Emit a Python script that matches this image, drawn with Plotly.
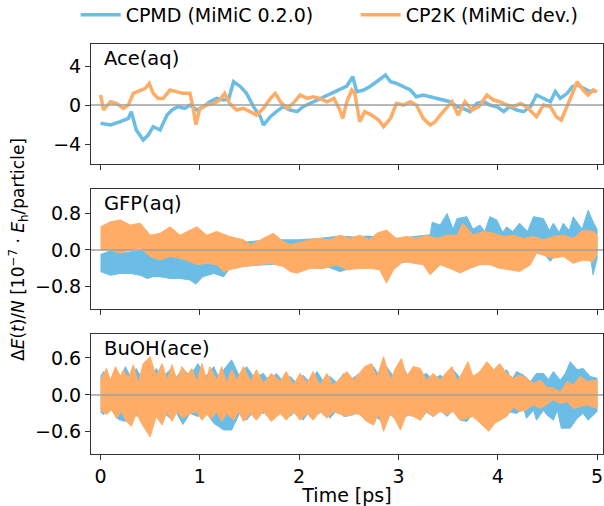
import plotly.graph_objects as go

# ---------------- data ----------------
series_names = ["CPMD (MiMiC 0.2.0)", "CP2K (MiMiC dev.)"]
panel_labels = ["Ace(aq)", "GFP(aq)", "BuOH(ace)"]
x_ticks = [0, 1, 2, 3, 4, 5]
y_ticks_ace = [-4, 0, 4]
y_ticks_gfp = [-0.8, 0.0, 0.8]
y_ticks_buoh = [-0.6, 0.0, 0.6]

# Ace(aq): running values
ace_cpmd_t = [0.00, 0.10, 0.20, 0.28, 0.31, 0.36, 0.43, 0.48, 0.53, 0.60, 0.67, 0.72, 0.78, 0.85,
              0.90, 0.97, 1.04, 1.10, 1.17, 1.24, 1.29, 1.34, 1.41, 1.47, 1.54, 1.61, 1.64, 1.71,
              1.77, 1.84, 1.91, 1.98, 2.04, 2.11, 2.18, 2.24, 2.31, 2.38, 2.44, 2.48, 2.54, 2.58,
              2.65, 2.71, 2.78, 2.87, 2.92, 2.98, 3.05, 3.12, 3.18, 3.25, 3.32, 3.39, 3.45, 3.52,
              3.59, 3.65, 3.72, 3.79, 3.86, 3.92, 3.99, 4.06, 4.12, 4.19, 4.26, 4.33, 4.39, 4.46,
              4.53, 4.58, 4.63, 4.70, 4.75, 4.80, 4.86, 4.93, 4.98]
ace_cpmd_v = [-1.88, -2.05, -1.70, -1.36, -0.68, -2.56, -3.59, -3.08, -2.22, -2.56, -1.03, -0.51,
              -0.17, -0.34, 0.00, -0.51, -0.17, 0.34, 0.68, 0.51, 0.60, 2.39, 1.88, 1.20, -0.17,
              -1.20, -2.05, -1.20, -0.68, -0.17, -0.51, -0.68, -0.17, 0.17, 0.51, 0.85, 1.20, 1.54,
              1.75, 1.95, 2.90, 1.37, 1.54, 1.88, 2.39, 3.08, 2.39, 2.22, 1.88, 1.54, 0.85, 1.03,
              0.85, 0.68, 0.51, 0.34, -0.17, -0.34, -0.68, 0.17, 0.34, 0.00, -0.17, -0.68, -0.17,
              -0.51, -0.68, -0.17, 1.03, 0.68, 0.34, 1.37, 0.68, 1.20, 1.88, 2.05, 1.71, 1.37, 1.54]

ace_cp2k_t = [0.00, 0.03, 0.10, 0.16, 0.23, 0.28, 0.33, 0.40, 0.45, 0.49, 0.53, 0.58, 0.63, 0.70,
              0.77, 0.83, 0.90, 0.93, 0.96, 1.00, 1.07, 1.14, 1.20, 1.25, 1.30, 1.37, 1.44, 1.51,
              1.57, 1.64, 1.71, 1.76, 1.81, 1.88, 1.94, 2.01, 2.08, 2.14, 2.21, 2.28, 2.35, 2.41,
              2.44, 2.48, 2.53, 2.56, 2.61, 2.66, 2.73, 2.80, 2.85, 2.92, 2.98, 3.05, 3.12, 3.18,
              3.25, 3.32, 3.37, 3.42, 3.49, 3.54, 3.60, 3.67, 3.74, 3.81, 3.89, 3.96, 4.02, 4.09,
              4.16, 4.23, 4.29, 4.39, 4.46, 4.53, 4.59, 4.64, 4.71, 4.76, 4.80, 4.86, 4.91, 4.96,
              5.00]
ace_cp2k_v = [1.03, -0.51, 0.34, 0.17, -0.34, 0.00, 1.20, 1.54, 1.71, 2.22, 1.20, 0.68, 0.68, 1.54,
              1.37, 1.20, 1.20, -0.17, -2.00, -0.34, 0.00, 0.17, 0.51, 1.20, 0.17, -0.51, -0.34,
              -0.68, -1.03, -0.34, 0.68, 1.20, 0.34, -0.34, 0.17, 1.03, 0.68, 0.85, 0.68, 0.34,
              0.68, -0.51, -1.37, 0.34, 1.54, 1.20, -1.71, -0.68, -1.03, -1.54, -2.22, -1.37, 0.17,
              0.00, 0.34, 0.00, -1.37, -2.05, -1.71, -1.03, -0.17, 0.34, -1.03, 0.34, -0.51, -0.17,
              1.03, 0.51, 0.34, 0.00, -0.17, 0.17, -0.17, -1.20, 0.00, -0.17, -1.20, -1.54, 0.17,
              1.54, 2.39, 1.54, 1.03, 1.54, 1.37]

# GFP(aq): upper / lower envelopes of the fast fluctuations
gfp_cpmd_up_t = [0.00, 0.10, 0.20, 0.30, 0.40, 0.50, 0.60, 0.70, 0.80, 0.90, 1.00, 1.10, 1.20, 1.30,
                 1.40, 1.50, 1.60, 1.80, 2.00, 2.20, 2.41, 2.55, 2.70, 2.80, 3.00, 3.20, 3.32, 3.34,
                 3.42, 3.49, 3.55, 3.59, 3.69, 3.75, 3.82, 3.87, 3.92, 3.99, 4.05, 4.09, 4.15, 4.22,
                 4.30, 4.36, 4.46, 4.52, 4.56, 4.62, 4.66, 4.72, 4.76, 4.85, 4.91, 4.96, 5.00]
gfp_cpmd_up_v = [-0.10, -0.02, -0.08, -0.04, -0.02, -0.05, -0.08, -0.04, -0.05, -0.10, 0.00, 0.02,
                 0.05, 0.10, 0.15, 0.18, 0.20, 0.22, 0.22, 0.25, 0.30, 0.28, 0.30, 0.27, 0.25, 0.30,
                 0.33, 0.60, 0.54, 0.79, 0.45, 0.68, 0.72, 0.45, 0.54, 0.40, 0.72, 0.65, 0.38, 0.50,
                 0.40, 0.58, 0.40, 0.72, 0.68, 0.42, 0.58, 0.38, 0.58, 0.42, 0.72, 0.45, 0.86, 0.61,
                 0.45]
gfp_cpmd_lo_t = [0.00, 0.10, 0.20, 0.30, 0.40, 0.47, 0.53, 0.60, 0.70, 0.80, 0.90, 0.96, 1.03, 1.14,
                 1.24, 1.30, 1.40, 1.50, 1.60, 1.80, 2.00, 2.20, 2.41, 2.60, 2.80, 2.98, 3.10, 3.25,
                 3.33, 3.36, 3.50, 3.70, 3.90, 4.10, 4.30, 4.45, 4.53, 4.60, 4.80, 4.93, 4.96, 5.00]
gfp_cpmd_lo_v = [-0.47, -0.55, -0.51, -0.51, -0.55, -0.62, -0.58, -0.58, -0.62, -0.62, -0.65, -0.74,
                 -0.58, -0.51, -0.58, -0.40, -0.36, -0.33, -0.33, -0.30, -0.35, -0.30, -0.47, -0.35,
                 -0.30, -0.30, -0.25, -0.30, -0.25, 0.10, 0.05, 0.08, 0.00, 0.05, -0.05, -0.05, -0.25,
                 -0.05, -0.05, -0.10, -0.54, -0.20]

gfp_cp2k_up_t = [0.00, 0.10, 0.20, 0.30, 0.40, 0.50, 0.60, 0.70, 0.80, 0.90, 0.97, 1.07, 1.17, 1.30,
                 1.44, 1.51, 1.64, 1.74, 1.84, 1.91, 2.04, 2.18, 2.31, 2.41, 2.51, 2.61, 2.71, 2.78,
                 2.88, 2.98, 3.08, 3.18, 3.28, 3.39, 3.49, 3.59, 3.65, 3.75, 3.86, 3.96, 4.06, 4.16,
                 4.26, 4.36, 4.46, 4.56, 4.66, 4.76, 4.86, 4.96, 5.00]
gfp_cp2k_up_v = [0.50, 0.61, 0.65, 0.54, 0.58, 0.32, 0.36, 0.50, 0.32, 0.43, 0.50, 0.32, 0.40, 0.29,
                 0.22, 0.11, 0.25, 0.36, 0.18, 0.11, 0.18, 0.25, 0.22, 0.32, 0.25, 0.32, 0.22, 0.36,
                 0.43, 0.25, 0.29, 0.25, 0.32, 0.25, 0.32, 0.32, 0.58, 0.32, 0.40, 0.36, 0.29, 0.32,
                 0.25, 0.29, 0.22, 0.29, 0.32, 0.25, 0.43, 0.40, 0.32]
gfp_cp2k_lo_t = [0.00, 0.10, 0.20, 0.30, 0.40, 0.50, 0.60, 0.70, 0.80, 0.90, 0.97, 1.07, 1.17, 1.24,
                 1.30, 1.44, 1.57, 1.71, 1.84, 1.91, 1.98, 2.11, 2.24, 2.38, 2.48, 2.61, 2.71, 2.81,
                 2.88, 2.95, 3.05, 3.15, 3.25, 3.32, 3.42, 3.52, 3.62, 3.72, 3.82, 3.92, 4.02, 4.12,
                 4.22, 4.33, 4.39, 4.46, 4.56, 4.66, 4.76, 4.86, 4.96, 5.00]
gfp_cp2k_lo_v = [0.00, 0.00, -0.07, 0.00, 0.04, -0.14, -0.22, -0.14, -0.18, -0.25, -0.32, -0.29,
                 -0.32, -0.47, -0.43, -0.36, -0.32, -0.29, -0.36, -0.47, -0.50, -0.40, -0.40, -0.32,
                 -0.43, -0.40, -0.40, -0.43, -0.72, -0.43, -0.25, -0.29, -0.32, -0.54, -0.32, -0.40,
                 -0.50, -0.40, -0.32, -0.32, -0.40, -0.43, -0.47, -0.32, -0.07, -0.11, -0.18, -0.14,
                 -0.29, -0.22, -0.25, -0.07]

# BuOH(ace): upper / lower envelopes of the oscillation
buoh_cpmd_up_t = [0.00, 0.03, 0.10, 0.16, 0.21, 0.25, 0.30, 0.36, 0.42, 0.47, 0.52, 0.56, 0.63, 0.70,
                  0.76, 0.83, 0.90, 0.98, 1.06, 1.14, 1.19, 1.24, 1.32, 1.40, 1.47, 1.55, 1.64, 1.70,
                  1.77, 1.84, 1.91, 1.97, 2.04, 2.11, 2.18, 2.25, 2.31, 2.38, 2.45, 2.52, 2.61, 2.68,
                  2.75, 2.81, 2.88, 2.95, 3.03, 3.09, 3.15, 3.22, 3.28, 3.35, 3.42, 3.49, 3.55, 3.62,
                  3.69, 3.75, 3.82, 3.89, 3.96, 4.02, 4.09, 4.14, 4.19, 4.26, 4.33, 4.39, 4.46, 4.51,
                  4.56, 4.63, 4.68, 4.73, 4.80, 4.86, 4.93, 5.00]
buoh_cpmd_up_v = [0.30, 0.38, 0.25, 0.40, 0.28, 0.46, 0.30, 0.43, 0.25, 0.45, 0.28, 0.43, 0.30, 0.41,
                  0.28, 0.43, 0.30, 0.51, 0.30, 0.46, 0.28, 0.41, 0.57, 0.30, 0.46, 0.28, 0.35, 0.22,
                  0.35, 0.22, 0.30, 0.20, 0.32, 0.20, 0.38, 0.20, 0.30, 0.20, 0.35, 0.25, 0.35, 0.28,
                  0.46, 0.30, 0.46, 0.30, 0.51, 0.32, 0.43, 0.30, 0.35, 0.25, 0.32, 0.25, 0.41, 0.28,
                  0.41, 0.30, 0.35, 0.30, 0.41, 0.30, 0.41, 0.25, 0.38, 0.32, 0.22, 0.35, 0.35, 0.25,
                  0.38, 0.24, 0.35, 0.54, 0.41, 0.43, 0.30, 0.27]
buoh_cpmd_lo_t = [0.00, 0.03, 0.10, 0.18, 0.25, 0.30, 0.36, 0.42, 0.50, 0.56, 0.63, 0.70, 0.76, 0.83,
                  0.90, 0.98, 1.06, 1.14, 1.24, 1.32, 1.40, 1.47, 1.55, 1.64, 1.70, 1.77, 1.84, 1.91,
                  1.97, 2.04, 2.11, 2.18, 2.25, 2.31, 2.38, 2.45, 2.55, 2.61, 2.68, 2.75, 2.81, 2.88,
                  2.95, 3.02, 3.08, 3.15, 3.22, 3.28, 3.35, 3.42, 3.49, 3.55, 3.62, 3.69, 3.75, 3.82,
                  3.89, 3.96, 4.02, 4.09, 4.19, 4.26, 4.29, 4.36, 4.39, 4.46, 4.49, 4.56, 4.60, 4.64,
                  4.73, 4.80, 4.86, 4.91, 5.00]
buoh_cpmd_lo_v = [-0.28, -0.32, -0.22, -0.40, -0.43, -0.28, -0.35, -0.25, -0.40, -0.35, -0.28, -0.38,
                  -0.28, -0.48, -0.30, -0.35, -0.28, -0.46, -0.57, -0.57, -0.30, -0.41, -0.25, -0.30,
                  -0.22, -0.35, -0.25, -0.35, -0.25, -0.41, -0.25, -0.32, -0.25, -0.38, -0.25, -0.35,
                  -0.32, -0.25, -0.38, -0.30, -0.41, -0.30, -0.35, -0.28, -0.35, -0.28, -0.41, -0.28,
                  -0.35, -0.25, -0.35, -0.25, -0.41, -0.43, -0.30, -0.41, -0.30, -0.43, -0.30, -0.27,
                  -0.30, -0.22, -0.38, -0.25, -0.41, -0.25, -0.32, -0.41, -0.25, -0.54, -0.54, -0.38,
                  -0.30, -0.41, -0.27]

buoh_cp2k_up_t = [0.00, 0.06, 0.10, 0.15, 0.20, 0.23, 0.28, 0.33, 0.38, 0.43, 0.50, 0.56, 0.62, 0.67,
                  0.72, 0.77, 0.82, 0.87, 0.92, 0.97, 1.02, 1.07, 1.10, 1.17, 1.22, 1.27, 1.32, 1.37,
                  1.44, 1.51, 1.57, 1.64, 1.72, 1.81, 1.87, 1.94, 2.01, 2.08, 2.14, 2.21, 2.28, 2.34,
                  2.41, 2.48, 2.55, 2.61, 2.66, 2.73, 2.78, 2.85, 2.92, 2.97, 3.03, 3.08, 3.15, 3.22,
                  3.28, 3.35, 3.42, 3.49, 3.54, 3.59, 3.64, 3.70, 3.75, 3.82, 3.89, 3.96, 4.02, 4.09,
                  4.16, 4.22, 4.29, 4.36, 4.43, 4.49, 4.56, 4.63, 4.70, 4.76, 4.83, 4.90, 5.00]
buoh_cp2k_up_v = [0.24, 0.43, 0.24, 0.46, 0.30, 0.41, 0.27, 0.49, 0.19, 0.51, 0.62, 0.30, 0.51, 0.24,
                  0.49, 0.24, 0.46, 0.32, 0.43, 0.22, 0.51, 0.24, 0.46, 0.24, 0.46, 0.19, 0.41, 0.24,
                  0.46, 0.22, 0.41, 0.19, 0.35, 0.22, 0.38, 0.16, 0.35, 0.19, 0.38, 0.16, 0.35, 0.16,
                  0.26, 0.38, 0.24, 0.35, 0.46, 0.51, 0.27, 0.62, 0.24, 0.43, 0.59, 0.30, 0.46, 0.43,
                  0.24, 0.35, 0.24, 0.38, 0.46, 0.22, 0.35, 0.54, 0.30, 0.38, 0.54, 0.41, 0.51, 0.35,
                  0.27, 0.32, 0.27, 0.19, 0.24, 0.13, 0.11, 0.05, 0.22, 0.16, 0.30, 0.22, 0.24]
buoh_cp2k_lo_t = [0.00, 0.06, 0.11, 0.16, 0.21, 0.26, 0.31, 0.36, 0.43, 0.50, 0.56, 0.62, 0.67, 0.72,
                  0.77, 0.83, 0.90, 0.97, 1.02, 1.07, 1.12, 1.17, 1.22, 1.27, 1.34, 1.39, 1.44, 1.51,
                  1.57, 1.64, 1.72, 1.81, 1.87, 1.94, 2.01, 2.08, 2.14, 2.21, 2.28, 2.34, 2.41, 2.48,
                  2.55, 2.61, 2.68, 2.75, 2.80, 2.85, 2.92, 2.97, 3.02, 3.08, 3.15, 3.22, 3.28, 3.35,
                  3.42, 3.49, 3.55, 3.62, 3.69, 3.75, 3.82, 3.91, 3.97, 4.02, 4.09, 4.16, 4.22, 4.29,
                  4.36, 4.43, 4.49, 4.56, 4.63, 4.70, 4.76, 4.83, 4.90, 5.00]
buoh_cp2k_lo_v = [-0.24, -0.32, -0.24, -0.38, -0.27, -0.43, -0.51, -0.30, -0.51, -0.68, -0.35, -0.49,
                  -0.27, -0.43, -0.27, -0.38, -0.30, -0.27, -0.41, -0.32, -0.38, -0.27, -0.43, -0.30,
                  -0.41, -0.27, -0.43, -0.30, -0.41, -0.27, -0.43, -0.30, -0.41, -0.27, -0.41, -0.30,
                  -0.41, -0.27, -0.38, -0.27, -0.31, -0.35, -0.30, -0.32, -0.43, -0.49, -0.30, -0.59,
                  -0.30, -0.41, -0.57, -0.32, -0.35, -0.41, -0.27, -0.35, -0.27, -0.32, -0.27, -0.41,
                  -0.38, -0.35, -0.46, -0.59, -0.46, -0.41, -0.35, -0.20, -0.27, -0.24, -0.16, -0.22,
                  -0.16, -0.08, -0.14, -0.11, -0.22, -0.19, -0.16, -0.22]

# ---------------- styling ----------------
BLUE = "#6CBDE6"
ORANGE = "#FFAD66"
AXC = "#333333"
FONT = "DejaVu Sans"
FS = 19

fig = go.Figure()


def band(t_up, v_up, t_lo, v_lo):
    return list(t_up) + list(t_lo)[::-1], list(v_up) + list(v_lo)[::-1]


# Ace(aq) lines
fig.add_trace(go.Scatter(x=ace_cpmd_t, y=ace_cpmd_v, mode="lines", name=series_names[0],
                         line=dict(color=BLUE, width=3.5), xaxis="x", yaxis="y",
                         legendgroup="a"))
fig.add_trace(go.Scatter(x=ace_cp2k_t, y=ace_cp2k_v, mode="lines", name=series_names[1],
                         line=dict(color=ORANGE, width=3.5), xaxis="x", yaxis="y",
                         legendgroup="b"))

# GFP(aq) bands
for (tu, vu, tl, vl, col, grp) in [
    (gfp_cpmd_up_t, gfp_cpmd_up_v, gfp_cpmd_lo_t, gfp_cpmd_lo_v, BLUE, "a"),
    (gfp_cp2k_up_t, gfp_cp2k_up_v, gfp_cp2k_lo_t, gfp_cp2k_lo_v, ORANGE, "b"),
]:
    bx, by = band(tu, vu, tl, vl)
    fig.add_trace(go.Scatter(x=bx, y=by, mode="lines", fill="toself", fillcolor=col,
                             line=dict(color=col, width=1), showlegend=False,
                             legendgroup=grp, xaxis="x2", yaxis="y2"))

# BuOH(ace) bands
for (tu, vu, tl, vl, col, grp) in [
    (buoh_cpmd_up_t, buoh_cpmd_up_v, buoh_cpmd_lo_t, buoh_cpmd_lo_v, BLUE, "a"),
    (buoh_cp2k_up_t, buoh_cp2k_up_v, buoh_cp2k_lo_t, buoh_cp2k_lo_v, ORANGE, "b"),
]:
    bx, by = band(tu, vu, tl, vl)
    fig.add_trace(go.Scatter(x=bx, y=by, mode="lines", fill="toself", fillcolor=col,
                             line=dict(color=col, width=1), showlegend=False,
                             legendgroup=grp, xaxis="x3", yaxis="y3"))

xrange = [-0.096, 5.06]
common_x = dict(range=xrange, tickvals=x_ticks, ticks="outside", ticklen=5, tickwidth=1,
                tickcolor=AXC, showline=True, linecolor=AXC, linewidth=1, mirror=True,
                showgrid=False, zeroline=False)
common_y = dict(ticks="outside", ticklen=5, tickwidth=1, tickcolor=AXC, showline=True,
                linecolor=AXC, linewidth=1, mirror=True, showgrid=False, zeroline=False,
                tickfont=dict(size=FS, color="black"))

fig.update_layout(
    width=604, height=506,
    margin=dict(l=91, r=1, t=44, b=52, autoexpand=False),
    paper_bgcolor="white", plot_bgcolor="white",
    font=dict(family=FONT, size=FS, color="black"),
    showlegend=True,
    legend=dict(orientation="h", x=-0.03, xanchor="left", y=1.071, yanchor="middle",
                font=dict(size=FS), bgcolor="rgba(0,0,0,0)", traceorder="normal",
                itemwidth=40, entrywidth=225, entrywidthmode="pixels"),
    xaxis=dict(domain=[0, 1], anchor="y", showticklabels=False, matches="x3", **common_x),
    xaxis2=dict(domain=[0, 1], anchor="y2", showticklabels=False, matches="x3", **common_x),
    xaxis3=dict(domain=[0, 1], anchor="y3", showticklabels=True,
                tickfont=dict(size=FS, color="black"),
                title=dict(text="Time [ps]", font=dict(size=FS), standoff=0), **common_x),
    yaxis=dict(domain=[0.7073, 1.0], anchor="x", range=[-6.05, 6.26], tickvals=y_ticks_ace,
               **common_y),
    yaxis2=dict(domain=[0.3537, 0.6463], anchor="x2", range=[-1.28, 1.32],
                tickvals=y_ticks_gfp, tickformat=".1f", **common_y),
    yaxis3=dict(domain=[0.0, 0.2927], anchor="x3", range=[-0.96, 0.99],
                tickvals=y_ticks_buoh, tickformat=".1f", **common_y),
)

# zero reference lines (on top of data)
for yr in ["y", "y2", "y3"]:
    fig.add_shape(type="line", xref="paper", x0=0, x1=1, yref=yr, y0=0, y1=0,
                  line=dict(color="#A0A0A0", width=1.5), layer="above")

# panel labels
for lab, yr in zip(panel_labels, ["y", "y2", "y3"]):
    fig.add_annotation(text=lab, xref="paper", yref=yr + " domain", x=0.0215, y=0.99,
                       xanchor="left", yanchor="top", showarrow=False,
                       font=dict(size=19.5, color="black", family=FONT))

# y-axis title
fig.add_annotation(text="Δ<i>E</i>(<i>t</i>)/<i>N</i> [10<sup>−7</sup> · <i>E</i><sub>h</sub>/particle]",
                   xref="paper", yref="paper", x=-0.1426, y=0.5, xanchor="center",
                   yanchor="middle", textangle=-90, showarrow=False,
                   font=dict(size=17, color="black", family=FONT))

fig.write_html("out.html", config={"displayModeBar": False},
               post_script="document.body.style.margin='0px';document.body.style.overflow='hidden';")
